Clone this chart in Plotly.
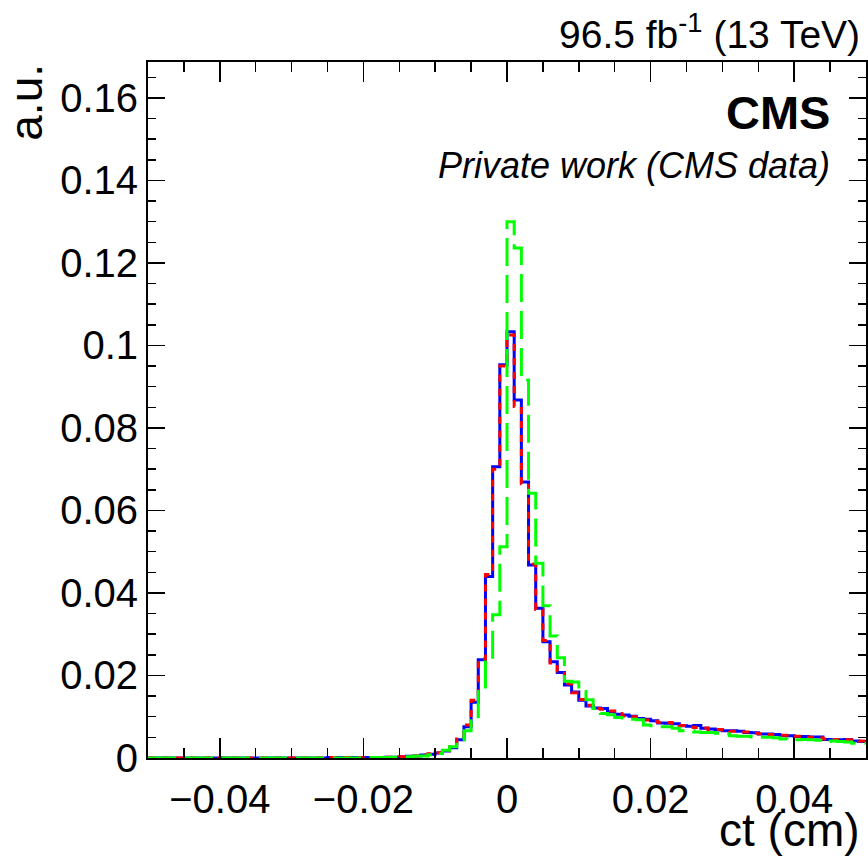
import plotly.graph_objects as go

# ---------------- data ----------------
bin_lo = -0.05
bin_width = 0.001
n_bins = 100

blue_vals = (
    [0.0] * 25 +                                   # -0.050 .. -0.026
    [0.0001, 0.0001, 0.0001, 0.0001, 0.0001, 0.0001, 0.0001,   # -0.025 .. -0.019
     0.0001, 0.0002, 0.0002, 0.0003, 0.0004, 0.0005, 0.0007,   # -0.018 .. -0.012
     0.0009, 0.0012, 0.0017, 0.0025, 0.0044, 0.0076, 0.0135,   # -0.011 .. -0.005
     0.0238, 0.0440, 0.0706, 0.0953,                          # -0.004 .. -0.001
     0.1033, 0.0868, 0.0669, 0.0468, 0.0363, 0.0282, 0.0233,   # 0.000 .. 0.006
     0.0207, 0.0177, 0.0160, 0.0140, 0.0126, 0.0121, 0.0120,   # 0.007 .. 0.013
     0.0112, 0.0106, 0.0104, 0.0101, 0.0096, 0.0094, 0.0090,   # 0.014 .. 0.020
     0.0085, 0.0084, 0.0083, 0.0078, 0.0077, 0.0079, 0.0072,   # 0.021 .. 0.027
     0.0070, 0.0068, 0.0066, 0.0066, 0.0065, 0.0062, 0.0061,   # 0.028 .. 0.034
     0.0058, 0.0058, 0.0057, 0.0054, 0.0054, 0.0052, 0.0052,   # 0.035 .. 0.041
     0.0051, 0.0051, 0.0045, 0.0044, 0.0044, 0.0045, 0.0041,   # 0.042 .. 0.048
     0.0040]                                                   # 0.049
)

red_vals = (
    [0.0] * 25 +
    [0.0001, 0.0001, 0.0001, 0.0001, 0.0001, 0.0001, 0.0001,
     0.0001, 0.0002, 0.0002, 0.0003, 0.0004, 0.0005, 0.0008,
     0.0010, 0.0013, 0.0018, 0.0027, 0.0046, 0.0080, 0.0140,
     0.0240, 0.0445, 0.0700, 0.0950,
     0.1025, 0.0852, 0.0665, 0.0470, 0.0360, 0.0285, 0.0230,
     0.0210, 0.0180, 0.0158, 0.0142, 0.0128, 0.0120, 0.0118,
     0.0114, 0.0108, 0.0102, 0.0100, 0.0098, 0.0092, 0.0089,
     0.0086, 0.0086, 0.0081, 0.0079, 0.0075, 0.0074, 0.0073,
     0.0069, 0.0069, 0.0067, 0.0065, 0.0063, 0.0063, 0.0060,
     0.0059, 0.0057, 0.0056, 0.0055, 0.0053, 0.0053, 0.0051,
     0.0050, 0.0049, 0.0046, 0.0045, 0.0043, 0.0044, 0.0042,
     0.0041]
)

green_vals = (
    [0.0] * 30 +                                   # -0.050 .. -0.021
    [0.0001, 0.0001, 0.0001, 0.0001, 0.0002,       # -0.020 .. -0.016
     0.0003, 0.0003, 0.0005, 0.0005, 0.0008,       # -0.015 .. -0.011
     0.0011, 0.0019, 0.0027, 0.0044, 0.0066,       # -0.010 .. -0.006
     0.0090, 0.0161, 0.0240, 0.0347, 0.0512,       # -0.005 .. -0.001
     0.1300, 0.1236, 0.0916, 0.0642, 0.0472,       # 0.000 .. 0.004
     0.0369, 0.0296, 0.0243, 0.0186, 0.0184,       # 0.005 .. 0.009
     0.0161, 0.0141, 0.0120, 0.0108, 0.0105,       # 0.010 .. 0.014
     0.0098, 0.0097, 0.0094, 0.0093, 0.0080,       # 0.015 .. 0.019
     0.0078, 0.0076, 0.0076, 0.0072, 0.0066,       # 0.020 .. 0.024
     0.0066, 0.0063, 0.0062, 0.0062, 0.0060,       # 0.025 .. 0.029
     0.0058, 0.0054, 0.0053, 0.0053, 0.0051,       # 0.030 .. 0.034
     0.0050, 0.0050, 0.0049, 0.0046, 0.0044,       # 0.035 .. 0.039
     0.0044, 0.0045, 0.0044, 0.0043, 0.0040,       # 0.040 .. 0.044
     0.0041, 0.0040, 0.0039, 0.0036, 0.0036]       # 0.045 .. 0.049
)

x_tickvals = [-0.04, -0.02, 0.0, 0.02, 0.04]
x_ticktext = ["\u22120.04", "\u22120.02", "0", "0.02", "0.04"]
y_tickvals = [0.0, 0.02, 0.04, 0.06, 0.08, 0.10, 0.12, 0.14, 0.16]
y_ticktext = ["0", "0.02", "0.04", "0.06", "0.08", "0.1", "0.12", "0.14", "0.16"]

# ---------------- figure ----------------
edges = [round(bin_lo + i * bin_width, 4) for i in range(n_bins + 1)]

def step(vals):
    return edges, list(vals) + [vals[-1]]

FONT = "Liberation Sans, Arial, Helvetica, sans-serif"

fig = go.Figure()
for vals, color, dash in [
    (blue_vals, "#0000ff", "solid"),
    (red_vals, "#ff0000", "7px,7px"),
    (green_vals, "#00ff00", "28px,9px"),
]:
    xs, ys = step(vals)
    fig.add_trace(go.Scatter(x=xs, y=ys, mode="lines", line_shape="hv",
                             line=dict(color=color, width=3, dash=dash),
                             showlegend=False, hoverinfo="skip"))

axis_common = dict(showline=True, linecolor="black", linewidth=2, mirror="ticks",
                   ticks="inside", tickcolor="black", tickwidth=1.5,
                   showgrid=False, zeroline=False, automargin=False,
                   tickfont=dict(family=FONT, size=40, color="black"))

fig.update_xaxes(range=[-0.05, 0.05], tickvals=x_tickvals, ticktext=x_ticktext,
                 ticklen=20, ticklabelstandoff=5,
                 minor=dict(dtick=0.005, tick0=0, ticklen=10, ticks="inside",
                            tickcolor="black", tickwidth=1.5),
                 **axis_common)
fig.update_yaxes(range=[0, 0.1687], tickvals=y_tickvals, ticktext=y_ticktext,
                 ticklen=17,
                 minor=dict(dtick=0.005, tick0=0, ticklen=8, ticks="inside",
                            tickcolor="black", tickwidth=1.5),
                 **axis_common)

ann = [
    dict(text="96.5 fb<sup>-1</sup> (13 TeV)", x=0.9944, y=1.0, xref="paper", yref="paper",
         xanchor="right", yanchor="bottom", yshift=4,
         font=dict(family=FONT, size=39, color="black"), showarrow=False),
    dict(text="<b>CMS</b>", x=0.9526, y=0.928, xref="paper", yref="paper",
         xanchor="right", yanchor="middle",
         font=dict(family=FONT, size=47, color="black"), showarrow=False),
    dict(text="<i>Private work (CMS data)</i>", x=0.9526, y=0.852, xref="paper", yref="paper",
         xanchor="right", yanchor="middle",
         font=dict(family=FONT, size=36, color="black"), showarrow=False),
    dict(text="ct (cm)", x=0.9944, y=-0.1034, xref="paper", yref="paper",
         xanchor="right", yanchor="middle",
         font=dict(family=FONT, size=46, color="black"), showarrow=False),
    dict(text="a.u.", x=-0.171, y=1.0, xref="paper", yref="paper",
         xanchor="center", yanchor="top", textangle=-90,
         font=dict(family=FONT, size=46, color="black"), showarrow=False),
]
fig.update_layout(width=868, height=857,
                  margin=dict(l=148, r=2, t=62, b=99, autoexpand=False),
                  paper_bgcolor="white", plot_bgcolor="white",
                  annotations=ann)

fig.write_html("out.html",
               config={"displayModeBar": False, "staticPlot": True},
               post_script="document.body.style.margin='0';"
                           "document.body.style.overflow='hidden';")
